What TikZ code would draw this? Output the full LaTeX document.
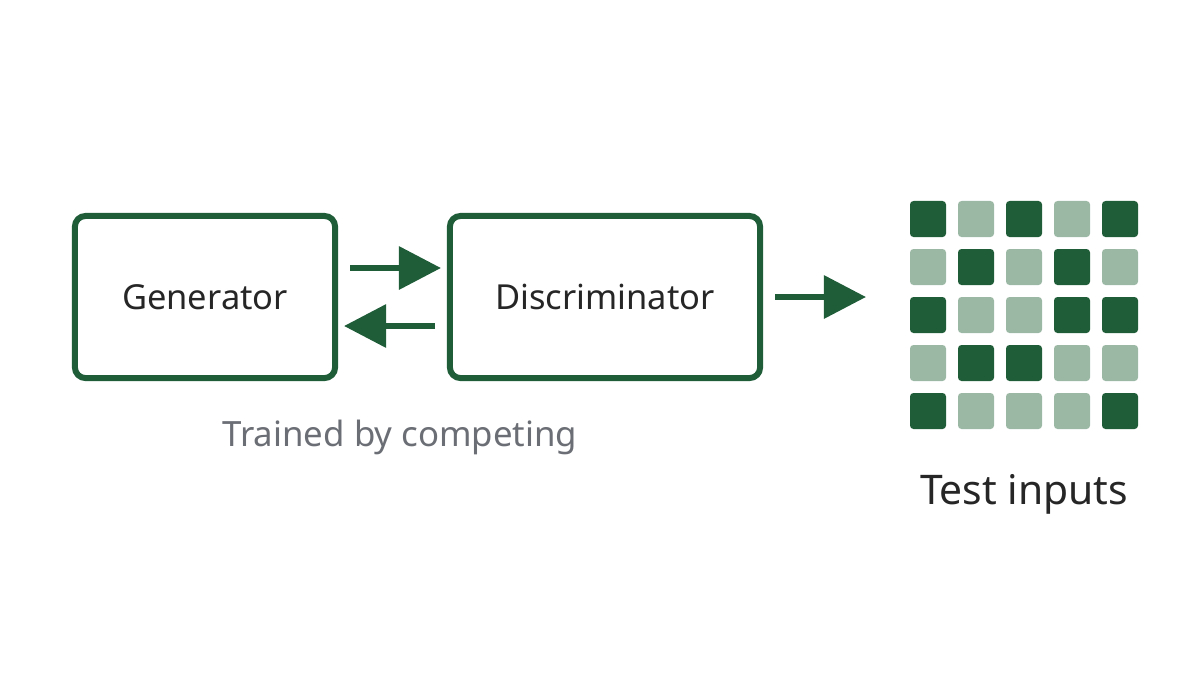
\documentclass[tikz,border=0pt]{standalone}
\usepackage{fontspec}
\setmainfont{Noto Sans}
\usetikzlibrary{arrows.meta,positioning}
\definecolor{gangreen}{HTML}{1F5C38}
\definecolor{ganlight}{HTML}{9BB8A5}
\definecolor{gangray}{HTML}{6B6E75}
\begin{document}
\begin{tikzpicture}[x=0.01cm,y=-0.01cm,
            block/.style={draw=gangreen,line width=1.7pt,rounded corners=3pt,minimum height=1.62cm,font=\fontsize{9.8}{11}\selectfont,text=black!85},
            cell/.style={rectangle,rounded corners=1pt,minimum size=0.36cm,inner sep=0pt},
            every path/.style={line width=1.8pt,>={Triangle[length=12pt,width=12pt]}}
          ]
          \useasboundingbox (0,0) rectangle (1200,675);
          %blocks
          \node[block,minimum width=2.6cm] (gen) at (205,297) {Generator};
          \node[block,minimum width=3.1cm] (disc) at (605,297) {Discriminator};

          %arrows
          \coordinate (g1) at (350,268);
          \coordinate (d1) at (441,268);
          \coordinate (d2) at (435,326);
          \coordinate (g2) at (344,326);
          \coordinate (d3) at (775,297);
          \coordinate (t3) at (866,297);
          \draw[->,gangreen] (g1) -- (d1);
          \draw[->,gangreen] (d2) -- (g2);
          \draw[->,gangreen] (d3) -- (t3);

          %test grid
          \foreach \r/\row in {0/{1,0,1,0,1},1/{0,1,0,1,0},2/{1,0,0,1,1},3/{0,1,1,0,0},4/{1,0,0,0,1}}
            \foreach \v [count=\c from 0] in \row {
              \ifnum\v=1 \def\cellcol{gangreen}\else\def\cellcol{ganlight}\fi
              \node[cell,fill=\cellcol] (c\r\c) at (928+48*\c,219+48*\r) {};
            }

          %labels
          \node[text=gangray,font=\fontsize{9.9}{12}\selectfont] (train) at (400,437) {Trained by competing};
          \node[text=black!85,font=\fontsize{11.6}{13}\selectfont,below=0.27cm of c42] (test) {Test inputs};
      \end{tikzpicture}
\end{document}
